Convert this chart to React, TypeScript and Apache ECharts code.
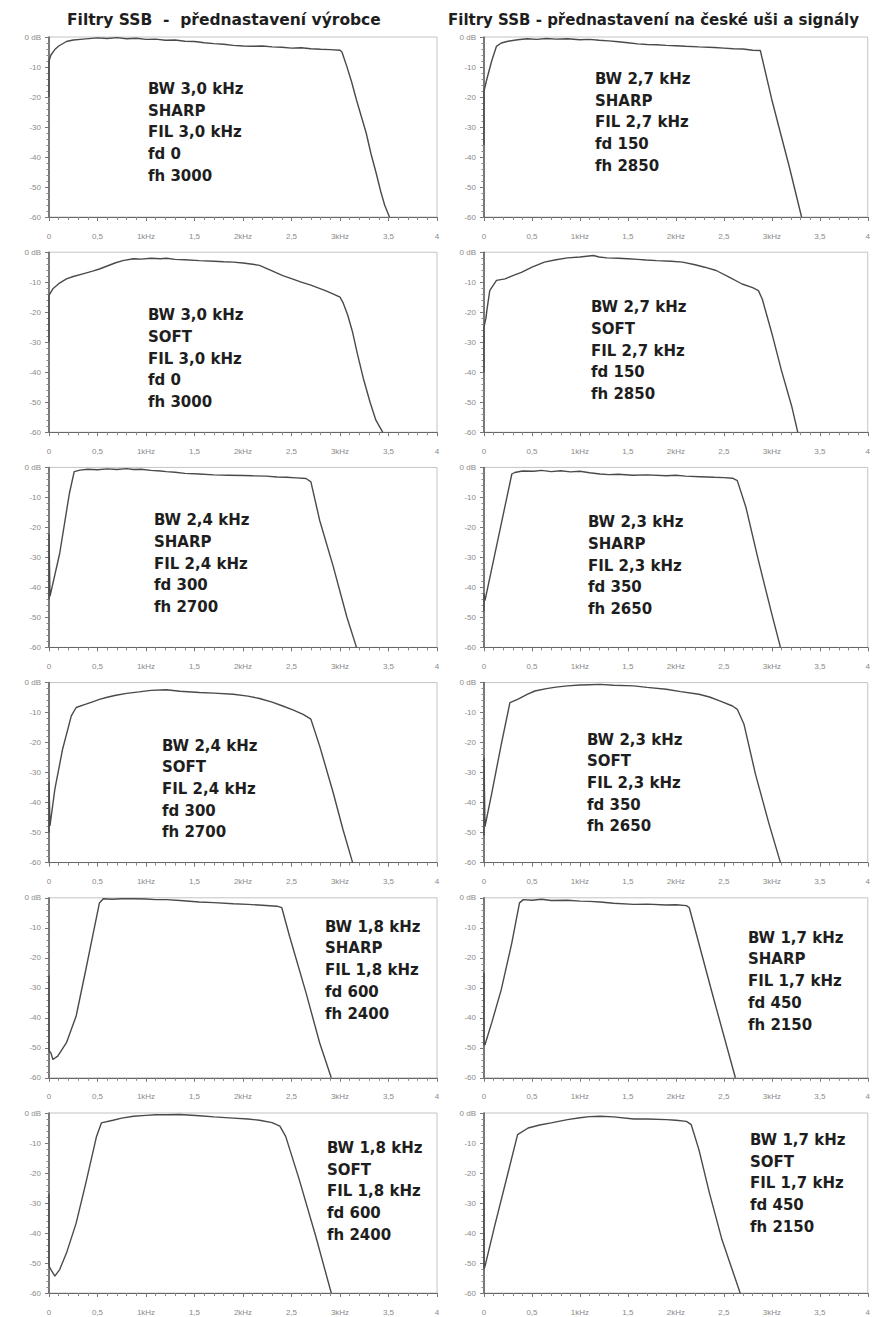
import React, { useEffect, useRef } from "react";
import * as echarts from "echarts";

// ---- Data ----
const xTickLabels = ["0", "0,5", "1kHz", "1,5", "2kHz", "2,5", "3kHz", "3,5", "4"];
const yTickLabels = ["0 dB", "-10", "-20", "-30", "-40", "-50", "-60"];

const columnTitles = [
  "Filtry SSB  -  přednastavení výrobce",
  "Filtry SSB - přednastavení na české uši a signály",
];

const bw30SharpMaker = [[0,-20],[0,-8],[0.02,-6],[0.06,-4.2],[0.1,-3],[0.18,-1.5],[0.25,-1.0],[0.35,-0.7],[0.5,-0.3],[0.6,-0.5],[0.7,-0.2],[0.8,-0.6],[0.9,-0.4],[1.0,-0.8],[1.1,-0.7],[1.2,-1.1],[1.3,-1.0],[1.4,-1.4],[1.5,-1.5],[1.6,-1.9],[1.7,-2.2],[1.8,-2.4],[1.9,-2.8],[2.0,-3.0],[2.1,-3.1],[2.2,-3.0],[2.3,-3.3],[2.4,-3.4],[2.5,-3.7],[2.6,-3.6],[2.7,-3.9],[2.8,-4.1],[2.9,-4.2],[3.0,-4.4],[3.02,-5],[3.07,-9.8],[3.12,-15],[3.17,-21],[3.22,-26.5],[3.27,-32],[3.32,-39],[3.37,-45],[3.42,-51.5],[3.46,-56],[3.51,-60]];
const bw27SharpCz = [[0,-36],[0,-18],[0.03,-14],[0.08,-8],[0.13,-3.1],[0.18,-2.0],[0.25,-1.4],[0.35,-0.9],[0.45,-0.6],[0.55,-0.8],[0.65,-0.5],[0.75,-0.7],[0.87,-0.6],[1.0,-0.9],[1.1,-0.8],[1.2,-1.1],[1.3,-1.3],[1.4,-1.6],[1.5,-1.9],[1.6,-2.3],[1.7,-2.5],[1.8,-2.6],[1.9,-2.8],[2.0,-2.9],[2.1,-3.1],[2.24,-3.3],[2.4,-3.5],[2.5,-3.7],[2.6,-3.9],[2.7,-4.0],[2.8,-4.4],[2.88,-4.5],[3.0,-20.9],[3.09,-32],[3.18,-43],[3.31,-60]];
const bw30SoftMaker = [[0,-30],[0,-14.4],[0.04,-12.2],[0.1,-10.5],[0.18,-8.9],[0.25,-8.1],[0.35,-7.2],[0.45,-6.3],[0.52,-5.6],[0.6,-4.6],[0.68,-3.6],[0.76,-2.8],[0.87,-2.2],[0.95,-2.3],[1.05,-2.0],[1.15,-2.2],[1.21,-2.0],[1.3,-2.4],[1.4,-2.5],[1.55,-2.8],[1.7,-3.0],[1.8,-3.2],[1.9,-3.3],[2.0,-3.6],[2.1,-4.0],[2.17,-4.4],[2.3,-6.2],[2.41,-7.8],[2.5,-8.8],[2.6,-10.0],[2.7,-11.0],[2.76,-11.7],[2.85,-12.8],[2.95,-14.2],[3.0,-15],[3.03,-16.7],[3.08,-21],[3.13,-26.7],[3.18,-34],[3.24,-42],[3.31,-50],[3.37,-56],[3.44,-60]];
const bw27SoftCz = [[0,-40],[0,-25],[0.02,-22],[0.03,-19.4],[0.06,-12.8],[0.13,-9.4],[0.22,-8.9],[0.3,-7.8],[0.39,-6.7],[0.5,-5.0],[0.63,-3.3],[0.75,-2.5],[0.87,-1.9],[1.0,-1.6],[1.14,-1.1],[1.2,-1.6],[1.28,-1.9],[1.4,-2.0],[1.5,-2.2],[1.6,-2.4],[1.69,-2.6],[1.8,-2.8],[1.95,-3.0],[2.07,-3.3],[2.2,-4.2],[2.3,-5.0],[2.42,-6.1],[2.55,-8.2],[2.69,-10.6],[2.8,-11.8],[2.86,-12.8],[2.9,-15.6],[3.0,-27],[3.1,-39.4],[3.21,-51.7],[3.27,-60]];
const bw24SharpMaker = [[0,-44],[0,-22],[0.01,-43],[0.11,-28.7],[0.21,-8.7],[0.26,-1.4],[0.32,-0.9],[0.4,-0.6],[0.5,-0.8],[0.6,-0.5],[0.7,-0.7],[0.8,-0.4],[0.87,-0.7],[0.95,-0.6],[1.05,-1.0],[1.15,-1.2],[1.21,-1.4],[1.3,-1.6],[1.4,-2.0],[1.55,-2.2],[1.7,-2.5],[1.85,-2.6],[2.0,-2.7],[2.1,-2.8],[2.24,-2.9],[2.35,-3.2],[2.45,-3.3],[2.55,-3.5],[2.65,-3.7],[2.7,-4.8],[2.79,-17.6],[2.93,-33],[3.07,-49.8],[3.17,-60]];
const bw23SharpCz = [[0,-48],[0,-42],[0.01,-44.4],[0.15,-23.3],[0.29,-2.2],[0.32,-1.7],[0.4,-1.2],[0.52,-1.3],[0.6,-1.0],[0.7,-1.4],[0.8,-1.1],[0.9,-1.5],[1.0,-1.3],[1.1,-1.8],[1.21,-2.2],[1.3,-2.4],[1.4,-2.3],[1.55,-2.6],[1.7,-2.5],[1.9,-2.8],[2.0,-2.6],[2.1,-2.9],[2.25,-3.1],[2.4,-3.3],[2.5,-3.4],[2.59,-3.6],[2.64,-4.4],[2.73,-13.3],[2.86,-31],[3.0,-48.9],[3.09,-60]];
const bw24SoftMaker = [[0,-50],[0,-33],[0.01,-47.8],[0.06,-35.6],[0.14,-22.2],[0.23,-11.1],[0.28,-8.3],[0.38,-7.2],[0.45,-6.4],[0.52,-5.6],[0.6,-4.9],[0.69,-4.2],[0.8,-3.6],[0.93,-3.1],[1.05,-2.6],[1.21,-2.4],[1.35,-2.9],[1.55,-3.3],[1.7,-3.5],[1.9,-3.9],[2.05,-4.5],[2.17,-5.3],[2.3,-6.5],[2.41,-7.8],[2.52,-9.2],[2.62,-10.6],[2.7,-12.2],[2.79,-21.1],[2.93,-36.7],[3.03,-48.9],[3.13,-60]];
const bw23SoftCz = [[0,-51],[0,-25],[0.01,-48],[0.08,-37],[0.18,-20.6],[0.27,-6.7],[0.35,-5.6],[0.45,-3.9],[0.53,-2.8],[0.65,-2.0],[0.75,-1.5],[0.87,-1.1],[1.0,-0.8],[1.1,-0.7],[1.21,-0.6],[1.35,-0.9],[1.56,-1.1],[1.7,-1.6],[1.9,-2.2],[2.05,-3.0],[2.24,-3.9],[2.35,-4.8],[2.45,-6.0],[2.59,-7.8],[2.64,-8.9],[2.71,-13.9],[2.83,-30.6],[2.97,-47],[3.09,-60]];
const bw18SharpMaker = [[0,-26],[0,-51],[0.02,-51.7],[0.04,-53.9],[0.09,-52.8],[0.18,-48.3],[0.28,-39.4],[0.38,-23.9],[0.45,-12.8],[0.52,-1.7],[0.56,-0.3],[0.65,-0.5],[0.75,-0.3],[0.87,-0.3],[1.0,-0.4],[1.1,-0.6],[1.21,-0.6],[1.35,-0.9],[1.55,-1.4],[1.7,-1.6],[1.9,-2.0],[2.05,-2.2],[2.2,-2.5],[2.35,-2.8],[2.4,-3.3],[2.48,-12.8],[2.65,-31.7],[2.79,-48.3],[2.91,-60]];
const bw17SharpCz = [[0,-25],[0,-49],[0.01,-49],[0.08,-41.7],[0.18,-30.6],[0.29,-15],[0.37,-1.7],[0.41,-0.6],[0.5,-0.8],[0.6,-0.5],[0.7,-0.9],[0.87,-0.8],[1.0,-1.1],[1.1,-1.2],[1.21,-1.4],[1.35,-1.8],[1.56,-2.2],[1.7,-2.1],[1.9,-2.4],[2.0,-2.3],[2.11,-2.6],[2.14,-3.3],[2.38,-32],[2.62,-60]];
const bw18SoftMaker = [[0,-27],[0,-51],[0.02,-52.2],[0.06,-54.4],[0.11,-52.2],[0.18,-46.7],[0.28,-36.7],[0.38,-23.3],[0.49,-7.8],[0.54,-3.3],[0.66,-2.4],[0.75,-1.7],[0.87,-1.1],[1.0,-0.8],[1.1,-0.6],[1.21,-0.6],[1.35,-0.5],[1.55,-0.9],[1.7,-1.3],[1.9,-1.7],[2.05,-2.0],[2.17,-2.4],[2.3,-3.2],[2.38,-4.4],[2.44,-7.8],[2.58,-22.2],[2.75,-41.1],[2.91,-60]];
const bw17SoftCz = [[0,-26],[0,-52],[0.01,-51.1],[0.11,-37.8],[0.25,-20],[0.35,-7.2],[0.46,-5],[0.58,-4.0],[0.7,-3.3],[0.87,-2.2],[1.0,-1.6],[1.1,-1.2],[1.21,-1.1],[1.35,-1.3],[1.56,-2.0],[1.7,-2.0],[1.9,-2.2],[2.0,-2.4],[2.11,-2.8],[2.16,-3.9],[2.24,-12.2],[2.35,-26.7],[2.48,-42.2],[2.67,-60]];

const panelTexts = [
  ["BW 3,0 kHz", "SHARP", "FIL 3,0 kHz", "fd 0", "fh 3000"],
  ["BW 2,7 kHz", "SHARP", "FIL 2,7 kHz", "fd 150", "fh 2850"],
  ["BW 3,0 kHz", "SOFT", "FIL 3,0 kHz", "fd 0", "fh 3000"],
  ["BW 2,7 kHz", "SOFT", "FIL 2,7 kHz", "fd 150", "fh 2850"],
  ["BW 2,4 kHz", "SHARP", "FIL 2,4 kHz", "fd 300", "fh 2700"],
  ["BW 2,3 kHz", "SHARP", "FIL 2,3 kHz", "fd 350", "fh 2650"],
  ["BW 2,4 kHz", "SOFT", "FIL 2,4 kHz", "fd 300", "fh 2700"],
  ["BW 2,3 kHz", "SOFT", "FIL 2,3 kHz", "fd 350", "fh 2650"],
  ["BW 1,8 kHz", "SHARP", "FIL 1,8 kHz", "fd 600", "fh 2400"],
  ["BW 1,7 kHz", "SHARP", "FIL 1,7 kHz", "fd 450", "fh 2150"],
  ["BW 1,8 kHz", "SOFT", "FIL 1,8 kHz", "fd 600", "fh 2400"],
  ["BW 1,7 kHz", "SOFT", "FIL 1,7 kHz", "fd 450", "fh 2150"],
];

const panelSeries = [
  bw30SharpMaker, bw27SharpCz,
  bw30SoftMaker, bw27SoftCz,
  bw24SharpMaker, bw23SharpCz,
  bw24SoftMaker, bw23SoftCz,
  bw18SharpMaker, bw17SharpCz,
  bw18SoftMaker, bw17SoftCz,
];

// ---- Layout (styles, not data) ----
const W = 873;
const H = 1317;
const colLeft = [49, 484];
const plotW = 388;
const plotH = 180;
const rowTop0 = 37;
const rowPitch = 215.2;
// text anchor: [x, offset of first line center below plot top]
const textPos = [
  [148, 52], [595, 42],
  [148, 63], [591, 55],
  [154, 53], [588, 55],
  [162, 63], [587, 57],
  [325, 29], [748, 40],
  [327, 35], [750, 27],
];
const lineH = 21.7;

export default function App() {
  const ref = useRef<HTMLDivElement>(null);
  useEffect(() => {
    if (!ref.current) return;
    const chart = echarts.init(ref.current, undefined, { renderer: "svg" });
    const grids: any[] = [];
    const xAxes: any[] = [];
    const yAxes: any[] = [];
    const series: any[] = [];
    const graphics: any[] = [];
    panelSeries.forEach((data, i) => {
      const row = Math.floor(i / 2);
      const col = i % 2;
      const top = rowTop0 + row * rowPitch;
      grids.push({
        left: colLeft[col],
        top,
        width: plotW,
        height: plotH,
        show: true,
        borderColor: "#c4c4c4",
        borderWidth: 1,
        backgroundColor: "#fff",
      });
      xAxes.push({
        type: "value",
        gridIndex: i,
        min: 0,
        max: 4,
        interval: 0.5,
        axisLine: { show: true, onZero: false, lineStyle: { color: "#666", width: 1 } },
        axisTick: { show: true, length: 4, lineStyle: { color: "#777" } },
        minorTick: { show: true, splitNumber: 5, length: 3, lineStyle: { color: "#888" } },
        splitLine: { show: false },
        axisLabel: {
          fontSize: 8,
          color: "#8a8a8a",
          margin: 15,
          fontFamily: "Liberation Sans",
          formatter: (v: number) => xTickLabels[Math.round(v / 0.5)] ?? "",
        },
      });
      yAxes.push({
        type: "value",
        gridIndex: i,
        min: -60,
        max: 0,
        interval: 10,
        axisLine: { show: true, onZero: false, lineStyle: { color: "#555", width: 1.5 } },
        axisTick: { show: true, length: 4, lineStyle: { color: "#777" } },
        minorTick: { show: true, splitNumber: 5, length: 2.5, lineStyle: { color: "#888" } },
        splitLine: { show: false },
        axisLabel: {
          fontSize: 8,
          color: "#8a8a8a",
          margin: 8,
          fontFamily: "Liberation Sans",
          formatter: (v: number) => yTickLabels[Math.round(-v / 10)] ?? "",
        },
      });
      series.push({
        type: "line",
        xAxisIndex: i,
        yAxisIndex: i,
        data,
        symbol: "none",
        showSymbol: false,
        lineStyle: { color: "#4a4a4a", width: 1.4 },
        clip: false,
        z: 3,
      });
      const [tx, toff] = textPos[i];
      graphics.push({
        type: "text",
        left: tx,
        top: top + toff - lineH / 2,
        z: 10,
        style: {
          text: panelTexts[i].join("\n"),
          fill: "#1e1e1e",
          font: "bold 15px 'DejaVu Sans'",
          lineHeight: lineH,
        },
      });
    });
    graphics.push({
      type: "text",
      left: 67,
      top: 12,
      style: {
        text: columnTitles[0],
        fill: "#1e1e1e",
        font: "bold 15.5px 'DejaVu Sans'",
      },
    });
    graphics.push({
      type: "text",
      left: 448,
      top: 12,
      style: {
        text: columnTitles[1],
        fill: "#1e1e1e",
        font: "bold 15px 'DejaVu Sans'",
      },
    });
    chart.setOption({
      animation: false,
      backgroundColor: "#fff",
      grid: grids,
      xAxis: xAxes,
      yAxis: yAxes,
      series,
      graphic: graphics,
    });
    return () => chart.dispose();
  }, []);
  return (
    <div
      ref={ref}
      style={{ position: "absolute", left: 0, top: 0, width: W, height: H }}
    />
  );
}
